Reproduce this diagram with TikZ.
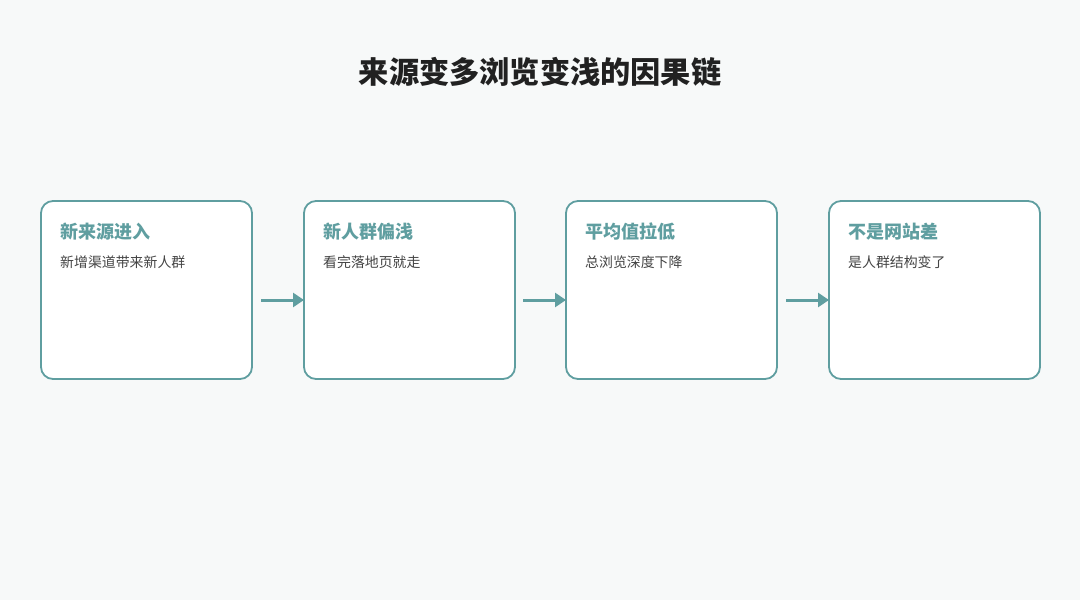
\documentclass[tikz,border=0pt]{standalone}
\usepackage{fontspec}
\newfontfamily\cjk{Noto Sans CJK SC}
\usetikzlibrary{arrows.meta}
\definecolor{teal1}{HTML}{5F9EA0}
\definecolor{bg}{HTML}{F7F9F9}
\definecolor{txt}{HTML}{444444}
\begin{document}
\begin{tikzpicture}[x=1pt,y=-1pt,
 box/.style={draw=teal1,line width=1.8pt,fill=white,rounded corners=12pt},
 ttl/.style={anchor=west,inner sep=0pt,text=teal1,font=\cjk\bfseries\fontsize{18}{21}\selectfont},
 sub/.style={anchor=west,inner sep=0pt,text=txt,font=\cjk\fontsize{13.9}{16}\selectfont},
 arr/.style={draw=teal1,line width=3pt,-{Triangle[length=11pt,width=14pt]}}]
\useasboundingbox[fill=bg] (0,0) rectangle (1080,600);
\node[font=\cjk\bfseries\fontsize{30.2}{36}\selectfont,text=black!87] (title) at (540,72) {来源变多浏览变浅的因果链};
\foreach \i/\x/\a/\b in {1/41/新来源进入/新增渠道带来新人群,2/304/新人群偏浅/看完落地页就走,3/566/平均值拉低/总浏览深度下降,4/829/不是网站差/是人群结构变了}{
 \draw[box] (\x,201) rectangle ++(211,178);
 \node[ttl] (t\i) at (\x+19,232) {\a};
 \node[sub] (s\i) at (\x+19,262) {\b};
}
\coordinate (l2) at (304,300); \coordinate (l3) at (566,300); \coordinate (l4) at (829,300);
\coordinate (r1) at (261,300); \coordinate (r2) at (523,300); \coordinate (r3) at (786,300);
\draw[arr] (r1) -- (l2);
\draw[arr] (r2) -- (l3);
\draw[arr] (r3) -- (l4);
\end{tikzpicture}
\end{document}
